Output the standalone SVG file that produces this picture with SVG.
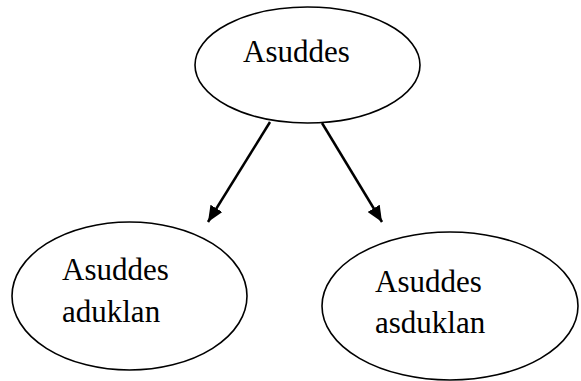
<svg xmlns="http://www.w3.org/2000/svg" width="581" height="381" viewBox="0 0 581 381">
<defs>
<style>
.node{fill:#fff;stroke:#000;stroke-width:1.6}
.lbl{font-family:"Liberation Serif","Times New Roman",serif;font-size:31px;fill:#000}
.edge{stroke:#000;stroke-width:2.5;fill:none}
</style>
<marker id="ah" markerUnits="userSpaceOnUse" markerWidth="18" markerHeight="14" refX="16" refY="7" orient="auto">
<path d="M0,0 L16,7 L0,14 Z" fill="#000"/>
</marker>
</defs>
<rect width="581" height="381" fill="#fff"/>
<g id="top">
<ellipse class="node" cx="307.5" cy="65" rx="112.5" ry="58"/>
<text class="lbl" x="243" y="62">Asuddes</text>
</g>
<g id="left">
<ellipse class="node" cx="129.5" cy="296" rx="117.5" ry="74"/>
<text class="lbl" x="62" y="280">Asuddes</text>
<text class="lbl" x="62" y="322">aduklan</text>
</g>
<g id="right">
<ellipse class="node" cx="450" cy="306" rx="128" ry="74"/>
<text class="lbl" x="375" y="292">Asuddes</text>
<text class="lbl" x="375" y="333">asduklan</text>
</g>
<g id="connectors">
<line class="edge" x1="270" y1="122" x2="208" y2="222" marker-end="url(#ah)"/>
<line class="edge" x1="322" y1="123" x2="382" y2="222" marker-end="url(#ah)"/>
</g>
</svg>
